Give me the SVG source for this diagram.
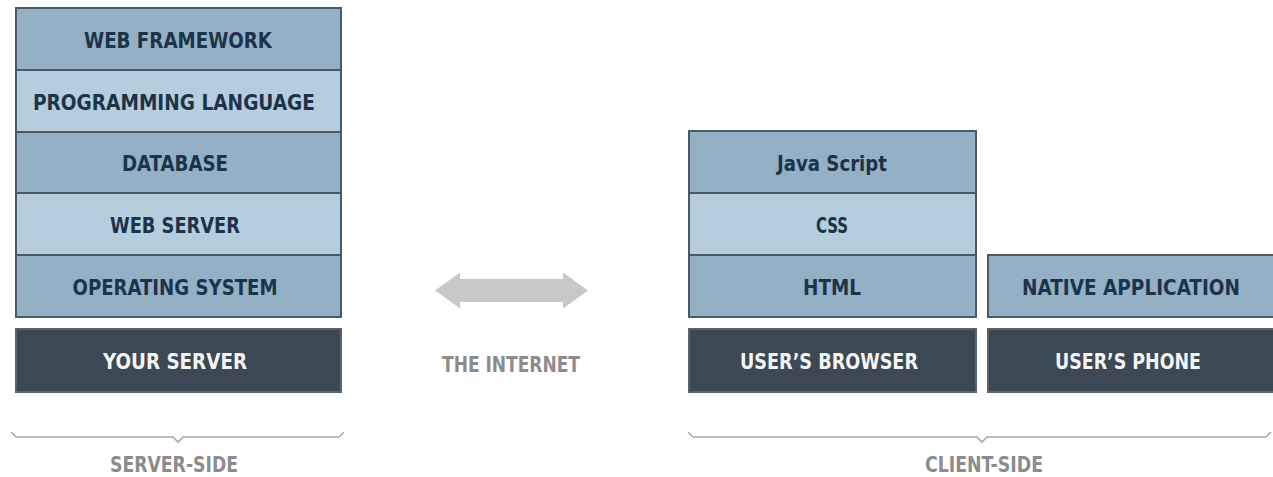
<svg xmlns="http://www.w3.org/2000/svg" width="1273" height="477" viewBox="0 0 1273 477">
<style>
  .mid { fill: #93b0c5; stroke: #4c5864; stroke-width: 2; }
  .light { fill: #b5cddc; stroke: #4c5864; stroke-width: 2; }
  .dark { fill: #3c4853; stroke: #5a636b; stroke-width: 2; }
  .lbl { font-family: "DejaVu Sans Condensed", "DejaVu Sans", sans-serif; font-weight: bold; font-size: 21px; fill: #1d3349; text-anchor: middle; }
  .wlbl { font-family: "DejaVu Sans Condensed", "DejaVu Sans", sans-serif; font-weight: bold; font-size: 21px; fill: #f4f4f4; text-anchor: middle; }
  .glbl { font-family: "DejaVu Sans Condensed", "DejaVu Sans", sans-serif; font-weight: bold; font-size: 21px; fill: #8c8c8c; text-anchor: middle; }
  .brace { fill: none; stroke: #a8a8a8; stroke-width: 1.6; }
</style>
<rect width="1273" height="477" fill="#ffffff"/>

<g id="web-framework">
  <rect class="mid" x="16" y="8" width="325" height="62"/>
  <text class="lbl" x="178" y="48" textLength="188" lengthAdjust="spacingAndGlyphs">WEB FRAMEWORK</text>
</g>
<g id="programming-language">
  <rect class="light" x="16" y="70" width="325" height="62"/>
  <text class="lbl" x="174" y="110" textLength="282" lengthAdjust="spacingAndGlyphs">PROGRAMMING LANGUAGE</text>
</g>
<g id="database">
  <rect class="mid" x="16" y="132" width="325" height="61"/>
  <text class="lbl" x="175" y="171" textLength="106" lengthAdjust="spacingAndGlyphs">DATABASE</text>
</g>
<g id="web-server">
  <rect class="light" x="16" y="193" width="325" height="62"/>
  <text class="lbl" x="175" y="233" textLength="130" lengthAdjust="spacingAndGlyphs">WEB SERVER</text>
</g>
<g id="operating-system">
  <rect class="mid" x="16" y="255" width="325" height="62"/>
  <text class="lbl" x="175" y="295" textLength="205" lengthAdjust="spacingAndGlyphs">OPERATING SYSTEM</text>
</g>
<g id="your-server">
  <rect class="dark" x="16" y="329" width="325" height="63"/>
  <text class="wlbl" x="175" y="369" textLength="144" lengthAdjust="spacingAndGlyphs">YOUR SERVER</text>
</g>

<g id="javascript">
  <rect class="mid" x="689" y="131" width="287" height="62"/>
  <text class="lbl" x="832" y="171" textLength="110" lengthAdjust="spacingAndGlyphs">Java Script</text>
</g>
<g id="css">
  <rect class="light" x="689" y="193" width="287" height="62"/>
  <text class="lbl" x="832" y="233" textLength="32" lengthAdjust="spacingAndGlyphs">CSS</text>
</g>
<g id="html">
  <rect class="mid" x="689" y="255" width="287" height="62"/>
  <text class="lbl" x="832" y="295" textLength="58" lengthAdjust="spacingAndGlyphs">HTML</text>
</g>
<g id="users-browser">
  <rect class="dark" x="689" y="329" width="287" height="63"/>
  <text class="wlbl" x="829" y="369" textLength="178" lengthAdjust="spacingAndGlyphs">USER’S BROWSER</text>
</g>

<g id="native-application">
  <rect class="mid" x="988" y="255" width="290" height="62"/>
  <text class="lbl" x="1131" y="295" textLength="218" lengthAdjust="spacingAndGlyphs">NATIVE APPLICATION</text>
</g>
<g id="users-phone">
  <rect class="dark" x="988" y="329" width="290" height="63"/>
  <text class="wlbl" x="1128" y="369" textLength="146" lengthAdjust="spacingAndGlyphs">USER’S PHONE</text>
</g>

<g id="connectors">
  <polygon fill="#c8c8c8" points="435,290.5 460,272.5 460,279 563,279 563,272.5 588,290.5 563,308.5 563,302 460,302 460,308.5"/>
  <path class="brace" d="M11,432 L16,437 L173,437 L178,442 L183,437 L339,437 L344,432"/>
  <path class="brace" d="M688,432 L693,437 L977,437 L982,442 L987,437 L1266,437 L1271,432"/>
</g>

<g id="labels">
  <text class="glbl" x="511" y="372" textLength="138" lengthAdjust="spacingAndGlyphs">THE INTERNET</text>
  <text class="glbl" x="174" y="472" textLength="128" lengthAdjust="spacingAndGlyphs">SERVER-SIDE</text>
  <text class="glbl" x="984" y="472" textLength="118" lengthAdjust="spacingAndGlyphs">CLIENT-SIDE</text>
</g>
</svg>
